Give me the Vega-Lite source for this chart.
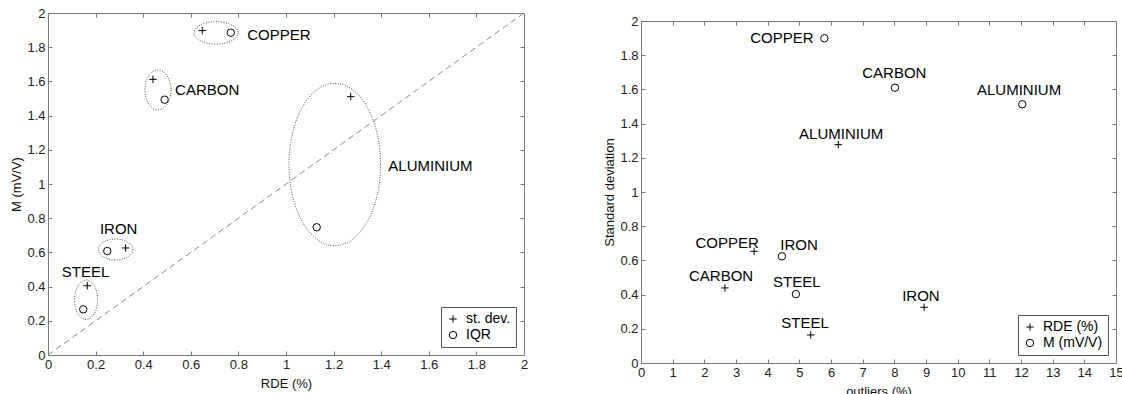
{
  "$schema": "https://vega.github.io/schema/vega-lite/v6.json",
  "background": "white",
  "padding": {"left": 10, "top": 6, "right": 0, "bottom": 0},
  "spacing": 74,
  "datasets": {
    "diag": [{"x": 0, "y": 0}, {"x": 2, "y": 2}],
    "spacer": [{"k": 0}],
    "left_points": [
      {"material": "COPPER", "stat": "st. dev.", "RDE": 0.648, "M": 1.897},
      {"material": "COPPER", "stat": "IQR", "RDE": 0.768, "M": 1.885},
      {"material": "CARBON", "stat": "st. dev.", "RDE": 0.441, "M": 1.612},
      {"material": "CARBON", "stat": "IQR", "RDE": 0.49, "M": 1.493},
      {"material": "ALUMINIUM", "stat": "st. dev.", "RDE": 1.272, "M": 1.511},
      {"material": "ALUMINIUM", "stat": "IQR", "RDE": 1.129, "M": 0.747},
      {"material": "IRON", "stat": "st. dev.", "RDE": 0.326, "M": 0.626},
      {"material": "IRON", "stat": "IQR", "RDE": 0.249, "M": 0.608},
      {"material": "STEEL", "stat": "st. dev.", "RDE": 0.165, "M": 0.405},
      {"material": "STEEL", "stat": "IQR", "RDE": 0.148, "M": 0.267}
    ],
    "left_groups": [
      {"material": "COPPER", "cx": 0.706, "cy": 1.884, "lx": 0.837, "ly": 1.871},
      {"material": "CARBON", "cx": 0.462, "cy": 1.55, "lx": 0.534, "ly": 1.551},
      {"material": "ALUMINIUM", "cx": 1.205, "cy": 1.114, "lx": 1.43, "ly": 1.107},
      {"material": "IRON", "cx": 0.284, "cy": 0.617, "lx": 0.218, "ly": 0.737},
      {"material": "STEEL", "cx": 0.16, "cy": 0.323, "lx": 0.058, "ly": 0.484}
    ],
    "right_points": [
      {"material": "COPPER", "stat": "M (mV/V)", "outliers": 5.79, "sd": 1.899, "lx": 4.45, "ly": 1.899},
      {"material": "ALUMINIUM", "stat": "RDE (%)", "outliers": 6.23, "sd": 1.277, "lx": 6.32, "ly": 1.339},
      {"material": "CARBON", "stat": "M (mV/V)", "outliers": 8.02, "sd": 1.61, "lx": 8.0, "ly": 1.696},
      {"material": "ALUMINIUM", "stat": "M (mV/V)", "outliers": 12.04, "sd": 1.513, "lx": 11.94, "ly": 1.595},
      {"material": "COPPER", "stat": "RDE (%)", "outliers": 3.57, "sd": 0.653, "lx": 2.72, "ly": 0.704},
      {"material": "IRON", "stat": "M (mV/V)", "outliers": 4.45, "sd": 0.624, "lx": 4.99, "ly": 0.69},
      {"material": "CARBON", "stat": "RDE (%)", "outliers": 2.65, "sd": 0.439, "lx": 2.53, "ly": 0.509},
      {"material": "STEEL", "stat": "M (mV/V)", "outliers": 4.89, "sd": 0.403, "lx": 4.92, "ly": 0.475},
      {"material": "STEEL", "stat": "RDE (%)", "outliers": 5.36, "sd": 0.164, "lx": 5.18, "ly": 0.234},
      {"material": "IRON", "stat": "RDE (%)", "outliers": 8.94, "sd": 0.326, "lx": 8.84, "ly": 0.39}
    ]
  },
  "hconcat": [
    {
      "width": 476,
      "height": 342,
      "layer": [
        {
          "data": {"name": "diag"},
          "mark": {"type": "line", "color": "#8a8a8a", "strokeDash": [6, 4], "strokeWidth": 1},
          "encoding": {
            "x": {"field": "x", "type": "quantitative", "scale": {"domain": [0, 2], "nice": false},
                  "axis": {"orient": "top", "labels": false, "title": null, "domain": false, "values": [0, 0.2, 0.4, 0.6, 0.8, 1, 1.2, 1.4, 1.6, 1.8, 2]}},
            "y": {"field": "y", "type": "quantitative", "scale": {"domain": [0, 2], "nice": false},
                  "axis": {"orient": "right", "labels": false, "title": null, "domain": false, "values": [0, 0.2, 0.4, 0.6, 0.8, 1, 1.2, 1.4, 1.6, 1.8, 2]}}
          }
        },
        {
          "data": {"name": "left_groups"},
          "mark": {"type": "point", "filled": false, "color": "#555555", "strokeWidth": 1, "strokeDash": [1, 1.5], "size": 40000, "opacity": 1},
          "encoding": {
            "x": {"field": "cx", "type": "quantitative", "scale": {"domain": [0, 2], "nice": false}, "axis": null},
            "y": {"field": "cy", "type": "quantitative", "scale": {"domain": [0, 2], "nice": false}, "axis": null},
            "shape": {"field": "material", "type": "nominal", "legend": null,
              "scale": {"domain": ["COPPER", "CARBON", "ALUMINIUM", "IRON", "STEEL"],
                "range": [
                  "M 0.22 0 C 0.22 0.0619 0.1215 0.112 0 0.112 C -0.1215 0.112 -0.22 0.0619 -0.22 0 C -0.22 -0.0619 -0.1215 -0.112 0 -0.112 C 0.1215 -0.112 0.22 -0.0619 0.22 0 Z",
                  "M 0.13 0 C 0.13 0.1105 0.0718 0.2 0 0.2 C -0.0718 0.2 -0.13 0.1105 -0.13 0 C -0.13 -0.1105 -0.0718 -0.2 0 -0.2 C 0.0718 -0.2 0.13 -0.1105 0.13 0 Z",
                  "M 0.458 0 C 0.458 0.4485 0.253 0.812 0 0.812 C -0.253 0.812 -0.458 0.4485 -0.458 0 C -0.458 -0.4485 -0.253 -0.812 0 -0.812 C 0.253 -0.812 0.458 -0.4485 0.458 0 Z",
                  "M 0.173 0 C 0.173 0.058 0.0955 0.105 0 0.105 C -0.0955 0.105 -0.173 0.058 -0.173 0 C -0.173 -0.058 -0.0955 -0.105 0 -0.105 C 0.0955 -0.105 0.173 -0.058 0.173 0 Z",
                  "M 0.115 0 C 0.115 0.1094 0.0635 0.198 0 0.198 C -0.0635 0.198 -0.115 0.1094 -0.115 0 C -0.115 -0.1094 -0.0635 -0.198 0 -0.198 C 0.0635 -0.198 0.115 -0.1094 0.115 0 Z"
                ]}}
          }
        },
        {
          "data": {"name": "left_groups"},
          "mark": {"type": "text", "align": "left", "baseline": "middle", "fontSize": 15, "font": "Liberation Sans", "color": "#000000"},
          "encoding": {
            "x": {"field": "lx", "type": "quantitative", "scale": {"domain": [0, 2], "nice": false}, "axis": null},
            "y": {"field": "ly", "type": "quantitative", "scale": {"domain": [0, 2], "nice": false}, "axis": null},
            "text": {"field": "material", "type": "nominal"}
          }
        },
        {
          "data": {"name": "left_points"},
          "mark": {"type": "point", "filled": false, "color": "#000000", "strokeWidth": 1, "size": 55, "opacity": 1},
          "encoding": {
            "x": {"field": "RDE", "type": "quantitative", "scale": {"domain": [0, 2], "nice": false},
                  "axis": {"title": "RDE (%)", "format": "~g", "values": [0, 0.2, 0.4, 0.6, 0.8, 1, 1.2, 1.4, 1.6, 1.8, 2]}},
            "y": {"field": "M", "type": "quantitative", "scale": {"domain": [0, 2], "nice": false},
                  "axis": {"title": "M (mV/V)", "format": "~g", "values": [0, 0.2, 0.4, 0.6, 0.8, 1, 1.2, 1.4, 1.6, 1.8, 2]}},
            "shape": {"field": "stat", "type": "nominal",
              "scale": {"domain": ["st. dev.", "IQR"], "range": ["M -1 0 L 1 0 M 0 -1 L 0 1", "circle"]},
              "legend": {"orient": "bottom-right", "title": null}}
          }
        }
      ],
      "resolve": {"axis": {"x": "independent", "y": "independent"}, "scale": {"shape": "independent"}}
    },
    {
      "spacing": 0,
      "vconcat": [
        {
          "width": 475,
          "height": 1,
          "data": {"name": "spacer"},
          "mark": {"type": "point", "opacity": 0, "size": 0},
          "view": {"stroke": null}
        },
        {
          "width": 475,
          "height": 342,
          "data": {"name": "right_points"},
          "layer": [
            {
              "mark": {"type": "point", "opacity": 0},
              "encoding": {
                "x": {"field": "outliers", "type": "quantitative", "scale": {"domain": [0, 15], "nice": false},
                      "axis": {"orient": "top", "labels": false, "title": null, "domain": false, "values": [0, 1, 2, 3, 4, 5, 6, 7, 8, 9, 10, 11, 12, 13, 14, 15]}},
                "y": {"field": "sd", "type": "quantitative", "scale": {"domain": [0, 2], "nice": false},
                      "axis": {"orient": "right", "labels": false, "title": null, "domain": false, "values": [0, 0.2, 0.4, 0.6, 0.8, 1, 1.2, 1.4, 1.6, 1.8, 2]}}
              }
            },
            {
              "mark": {"type": "text", "align": "center", "baseline": "middle", "fontSize": 15, "font": "Liberation Sans", "color": "#000000"},
              "encoding": {
                "x": {"field": "lx", "type": "quantitative", "scale": {"domain": [0, 15], "nice": false}, "axis": null},
                "y": {"field": "ly", "type": "quantitative", "scale": {"domain": [0, 2], "nice": false}, "axis": null},
                "text": {"field": "material", "type": "nominal"}
              }
            },
            {
              "mark": {"type": "point", "filled": false, "color": "#000000", "strokeWidth": 1, "size": 55, "opacity": 1},
              "encoding": {
                "x": {"field": "outliers", "type": "quantitative", "scale": {"domain": [0, 15], "nice": false},
                      "axis": {"title": "outliers (%)", "format": "~g", "values": [0, 1, 2, 3, 4, 5, 6, 7, 8, 9, 10, 11, 12, 13, 14, 15]}},
                "y": {"field": "sd", "type": "quantitative", "scale": {"domain": [0, 2], "nice": false},
                      "axis": {"title": "Standard deviation", "format": "~g", "values": [0, 0.2, 0.4, 0.6, 0.8, 1, 1.2, 1.4, 1.6, 1.8, 2]}},
                "shape": {"field": "stat", "type": "nominal",
                  "scale": {"domain": ["RDE (%)", "M (mV/V)"], "range": ["M -1 0 L 1 0 M 0 -1 L 0 1", "circle"]},
                  "legend": {"orient": "bottom-right", "title": null}}
              }
            }
          ],
          "resolve": {"axis": {"x": "independent", "y": "independent"}}
        }
      ],
      "resolve": {"scale": {"shape": "independent"}, "legend": {"shape": "independent"}}
    }
  ],
  "resolve": {"scale": {"shape": "independent"}, "legend": {"shape": "independent"}},
  "config": {
    "font": "Liberation Sans",
    "view": {"stroke": "#7a7a7a", "strokeWidth": 1},
    "axis": {
      "grid": false,
      "domainColor": "#7a7a7a",
      "tickColor": "#7a7a7a",
      "tickSize": -4,
      "labelPadding": 7,
      "labelFont": "Liberation Sans",
      "labelFontSize": 13,
      "labelColor": "#222222",
      "titleFont": "Liberation Sans",
      "titleFontSize": 13,
      "titleFontWeight": "normal",
      "titleColor": "#111111",
      "titlePadding": 3,
      "labelFlush": false,
      "labelOverlap": false
    },
    "axisX": {"titlePadding": 6},
    "legend": {
      "strokeColor": "#555555",
      "fillColor": "white",
      "padding": 5,
      "offset": 8,
      "labelFont": "Liberation Sans",
      "labelFontSize": 14,
      "labelColor": "#000000",
      "symbolSize": 55,
      "symbolStrokeColor": "#000000",
      "symbolStrokeWidth": 1,
      "symbolFillColor": "transparent",
      "rowPadding": 2,
      "labelOffset": 6
    }
  }
}
